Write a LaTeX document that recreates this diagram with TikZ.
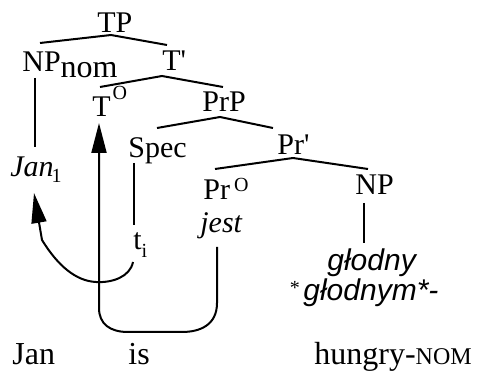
\documentclass[tikz,border=0pt]{standalone}
\usepackage{fontspec}
\setmainfont{Liberation Serif}
\newfontfamily\gsans{Liberation Sans}
\usetikzlibrary{arrows.meta}
\begin{document}
\begin{tikzpicture}[x=0.5pt,y=-0.5pt,
  lbl/.style={inner sep=0pt, anchor=base west, font=\fontsize{15}{18}\selectfont},
  glosslbl/.style={inner sep=0pt, anchor=base west, font=\fontsize{16}{19}\selectfont},
  sanslbl/.style={inner sep=0pt, anchor=base west, font=\gsans\itshape\fontsize{15}{18}\selectfont},
  branch/.style={line width=1pt},
  mv/.style={line width=1pt, -{Triangle[length=15pt,width=7.5pt]}}]
\useasboundingbox (0,0) rectangle (478,374);
% labels
\node[lbl] (tp) at (97,33) {TP};
\node[lbl] (npnom) at (22,72) {NP\raisebox{-3pt}{\fontsize{16}{16}\selectfont nom}};
\node[lbl] (tbar) at (162,71) {T\textquotesingle};
\node[lbl] (t0) at (92,117) {T\kern1pt\raisebox{8.5pt}{\fontsize{10}{10}\selectfont O}};
\node[lbl] (prp) at (202,112) {PrP};
\node[lbl] (spec) at (128,158) {Spec};
\node[lbl] (prbar) at (277,155) {Pr\textquotesingle};
\node[lbl] (pr0) at (203,200) {Pr\hspace{2pt}\raisebox{4pt}{\fontsize{10}{10}\selectfont O}};
\node[lbl] (np) at (355,195) {NP};
\node[lbl] (jest) at (200,233) {\itshape jest};
\node[lbl] (jan1) at (10,177) {\itshape Jan\kern-1pt\raisebox{-3pt}{\upshape\fontsize{10}{10}\selectfont 1}};
\node[lbl] (ti) at (133,250) {t\raisebox{-4pt}{\fontsize{10}{10}\selectfont i}};
\node[sanslbl] (glodny) at (327,271) {głodny};
\node[inner sep=0pt, font=\fontsize{10}{10}\selectfont] (star) at (295,288) {*};
\node[sanslbl] (glodnym) at (303,301) {głodnym*-};
\node[glosslbl] (jan) at (12,365) {Jan};
\node[glosslbl] (is) at (128,365) {is};
\node[glosslbl] (hungry) at (314,365) {hungry-{\fontsize{12}{12}\selectfont NOM}};
% branch points
\coordinate (tpL) at (40,43); \coordinate (tpT) at (111,35); \coordinate (tpR) at (167,45);
\coordinate (tbL) at (100,87); \coordinate (tbT) at (162,76); \coordinate (tbR) at (223,87);
\coordinate (prpL) at (157,128); \coordinate (prpT) at (220,117); \coordinate (prpR) at (273,128);
\coordinate (prbL) at (215,169); \coordinate (prbT) at (293,158); \coordinate (prbR) at (368,169);
\draw[branch] (tpL) -- (tpT) -- (tpR);
\draw[branch] (tbL) -- (tbT) -- (tbR);
\draw[branch] (prpL) -- (prpT) -- (prpR);
\draw[branch] (prbL) -- (prbT) -- (prbR);
% vertical lines
\coordinate (npnomB) at (35,78); \coordinate (jan1T) at (35,147);
\draw[branch] (npnomB) -- (jan1T);
\coordinate (npB) at (364,203); \coordinate (glodnyT) at (364,243);
\draw[branch] (npB) -- (glodnyT);
\coordinate (specB) at (134,163); \coordinate (tiT) at (134,225);
\draw[branch] (specB) -- (tiT);
% movement of jest to T
\coordinate (jestB) at (217,247); \coordinate (m1) at (217,303);
\coordinate (m2) at (182,332); \coordinate (m3) at (128,332);
\coordinate (m4) at (99,308); \coordinate (t0B) at (99,123);
\draw[mv] (jestB) -- (m1) .. controls (217,325) and (200,332) .. (m2) -- (m3)
  .. controls (110,332) and (99,324) .. (m4) -- (t0B);
% movement of Jan
\coordinate (tiB) at (133,262); \coordinate (a1) at (96,282);
\coordinate (a2) at (42,240); \coordinate (jan1B) at (34,193);
\draw[mv] (tiB) .. controls (130,277) and (112,283) .. (a1)
  .. controls (76,281) and (58,266) .. (a2) -- (jan1B);
\end{tikzpicture}
\end{document}
